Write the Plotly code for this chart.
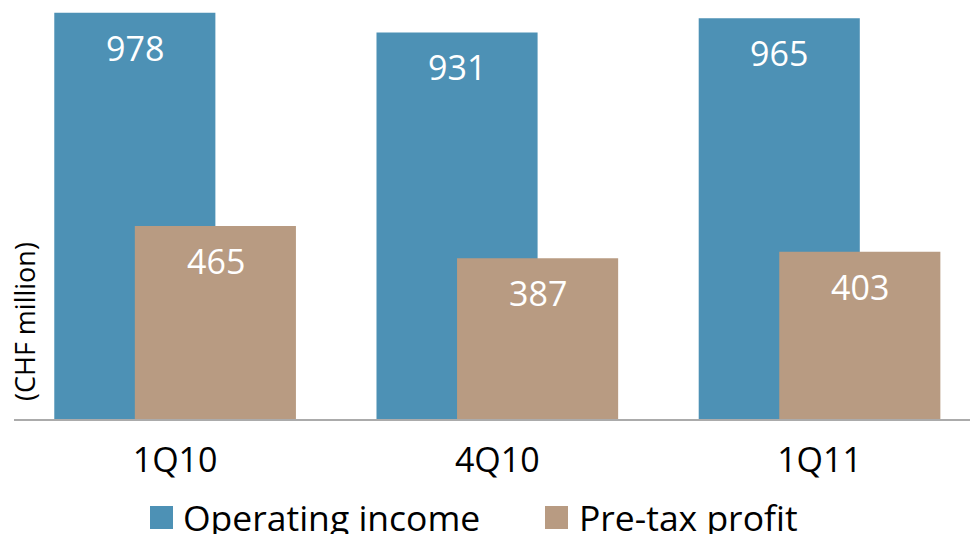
import plotly.graph_objects as go

categories = ["1Q10", "4Q10", "1Q11"]
operating_income = [978, 931, 965]
pretax_profit = [465, 387, 403]
series_names = ["Operating income", "Pre-tax profit"]

BLUE = "#4d91b5"
TAN = "#b89b82"
FONT = "Open Sans"

W, H = 970, 534
L, R, T, B = 14, 0, 0, 115
pw, ph = W - L - R, H - T - B

def px_x(x):
    return (x - L) / pw

def px_y(y):
    return (H - B - y) / ph

fig = go.Figure()
fig.add_trace(go.Bar(x=categories, y=operating_income, name=series_names[0],
                     marker=dict(color=BLUE, line=dict(width=0)),
                     width=0.5, offset=-0.375, showlegend=False, hoverinfo="skip"))
fig.add_trace(go.Bar(x=categories, y=pretax_profit, name=series_names[1],
                     marker=dict(color=TAN, line=dict(width=0)),
                     width=0.5, offset=-0.125, showlegend=False, hoverinfo="skip"))

annotations = []
for cat, v in zip(categories, operating_income):
    annotations.append(dict(x=cat, y=v, xref="x", yref="y", text=str(v), showarrow=False,
                            xshift=-40.5, yshift=-35, yanchor="middle",
                            font=dict(family=FONT, size=34, color="white")))
for cat, v in zip(categories, pretax_profit):
    annotations.append(dict(x=cat, y=v, xref="x", yref="y", text=str(v), showarrow=False,
                            xshift=40.5, yshift=-35, yanchor="middle",
                            font=dict(family=FONT, size=34, color="white")))

# manual legend
shapes = []
leg_items = [(series_names[0], BLUE, 150, 173, 181), (series_names[1], TAN, 545, 568, 577)]
for name, col, x0, x1, tx in leg_items:
    shapes.append(dict(type="rect", xref="paper", yref="paper",
                       x0=px_x(x0), x1=px_x(x1), y0=px_y(529), y1=px_y(506),
                       fillcolor=col, line=dict(width=0)))
    annotations.append(dict(x=px_x(tx), y=px_y(517), xref="paper", yref="paper",
                            text=name, showarrow=False, xanchor="left", yanchor="middle",
                            font=dict(family=FONT, size=35.5, color="black")))

annotations.append(dict(x=px_x(24), y=px_y(322), xref="paper", yref="paper",
                        text="(CHF million)", showarrow=False, textangle=-90,
                        xanchor="center", yanchor="middle",
                        font=dict(family=FONT, size=27, color="black")))

fig.update_layout(
    width=W, height=H,
    margin=dict(l=L, r=R, t=T, b=B, pad=0),
    barmode="overlay",
    plot_bgcolor="white", paper_bgcolor="white",
    xaxis=dict(type="category", range=[-0.5, 2.467], showline=True, linecolor="#ababab",
               linewidth=2, ticks="outside", ticklen=10, tickcolor="rgba(0,0,0,0)",
               tickfont=dict(family=FONT, size=34, color="black"), showgrid=False,
               zeroline=False, fixedrange=True),
    yaxis=dict(range=[0, 1009], visible=False, showgrid=False, zeroline=False,
               fixedrange=True),
    annotations=annotations,
    shapes=shapes,
    showlegend=False,
    hovermode=False,
)

fig.write_html("out.html", config={"displayModeBar": False, "staticPlot": True},
               post_script="document.body.style.margin='0px';document.body.style.overflow='hidden';")
